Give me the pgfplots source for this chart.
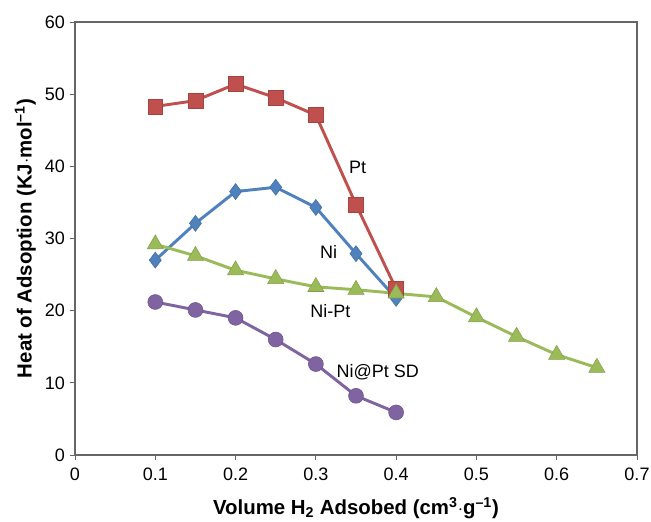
\documentclass[border=0pt]{standalone}
\usepackage{pgfplots}
\pgfplotsset{compat=1.18}
\usepackage{fontspec}
\setmainfont{Liberation Sans}
\definecolor{cRed}{HTML}{C0504D}
\definecolor{cBlue}{HTML}{4F81BD}
\definecolor{cGreen}{HTML}{9BBB59}
\definecolor{cPurple}{HTML}{8064A2}
\begin{document}
\begin{tikzpicture}
\begin{axis}[
  name=ax,
  width=421.5pt, height=324.75pt, scale only axis,
  xmin=0, xmax=0.7, ymin=0, ymax=60,
  xtick={0,0.1,...,0.7}, ytick={0,10,...,60},
  xticklabels={0,0.1,0.2,0.3,0.4,0.5,0.6,0.7},
  /pgf/number format/assume math mode=true,
  tick align=outside, tick pos=left,
  major tick length=4pt,
  axis line style={draw=black!60, line width=0.8pt},
  tick style={black!60, line width=0.6pt},
  ticklabel style={font=\fontsize{13.5}{15}\selectfont},
  xticklabel style={yshift=-2pt},
  xlabel={\textbf{Volume H\textsubscript{2} Adsobed (cm\textsuperscript{3}$\cdot$g\textsuperscript{–1})}},
  ylabel={\textbf{Heat of Adsoption (KJ$\cdot$mol\textsuperscript{–1})}},
  label style={font=\fontsize{15.3}{17}\selectfont},
  xlabel style={yshift=-6pt},
  ylabel style={yshift=0pt},
  every axis plot/.append style={line width=2.2pt},
  clip=false,
]
\addplot[color=cRed, mark=square*, mark size=5.6pt, mark options={fill=cRed, draw=cRed!85!black, line width=0.4pt}] coordinates {
(0.1,48.3) (0.15,49.1) (0.2,51.4) (0.25,49.5) (0.3,47.1) (0.35,34.7) (0.4,23.0)};
\addplot[color=cBlue, mark=diamond*, mark size=6pt, mark options={fill=cBlue, draw=cBlue!85!black, line width=0.4pt}] coordinates {
(0.1,27.0) (0.15,32.1) (0.2,36.5) (0.25,37.1) (0.3,34.3) (0.35,27.9) (0.4,21.7)};
\addplot[color=cGreen, mark=triangle*, mark size=7pt, mark options={fill=cGreen, draw=cGreen!85!black, line width=0.4pt}] coordinates {
(0.1,29.2) (0.15,27.6) (0.2,25.6) (0.25,24.4) (0.3,23.3) (0.35,22.9) (0.4,22.4) (0.45,21.9) (0.5,19.1) (0.55,16.4) (0.6,13.9) (0.65,12.1)};
\addplot[color=cPurple, mark=*, mark size=5.6pt, mark options={fill=cPurple, draw=cPurple!85!black, line width=0.4pt}] coordinates {
(0.1,21.2) (0.15,20.1) (0.2,19.0) (0.25,16.0) (0.3,12.6) (0.35,8.2) (0.4,5.9)};
\node[font=\fontsize{13.5}{15}\selectfont] at (axis cs:0.352,39.8) {Pt};
\node[font=\fontsize{13.5}{15}\selectfont] at (axis cs:0.316,28.1) {Ni};
\node[font=\fontsize{13.5}{15}\selectfont] at (axis cs:0.318,20.0) {Ni-Pt};
\node[font=\fontsize{13.5}{15}\selectfont] at (axis cs:0.377,11.4) {Ni@Pt SD};
\end{axis}
\pgfresetboundingbox
\path[use as bounding box] ([shift={(-56.25pt,-50.25pt)}]ax.south west) rectangle ([shift={(10.5pt,16.5pt)}]ax.north east);
\end{tikzpicture}
\end{document}
